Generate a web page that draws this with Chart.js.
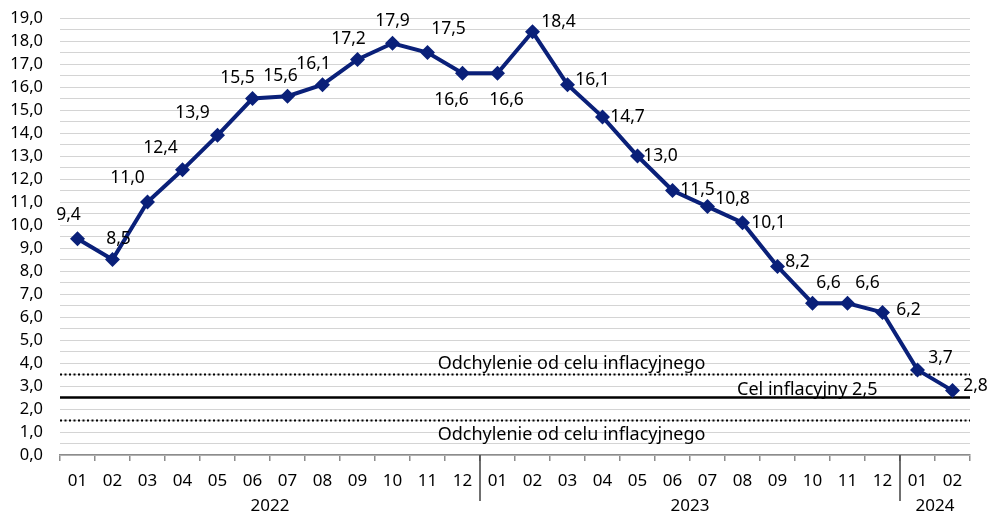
<!DOCTYPE html>
<html>
<head>
<meta charset="utf-8">
<script src="https://cdn.jsdelivr.net/npm/chart.js@4"></script>
<style>
  html, body { margin: 0; padding: 0; background: #fff; }
  #wrap { width: 991px; height: 517px; position: relative; }
</style>
</head>
<body>
<div id="wrap"><canvas id="cpi-chart"></canvas></div>
<script>
// ---- data ----
const months = ['01','02','03','04','05','06','07','08','09','10','11','12',
                '01','02','03','04','05','06','07','08','09','10','11','12',
                '01','02'];
const years = ['2022', '2023', '2024'];
const yearSpans = [12, 12, 2];
const cpi = [9.4, 8.5, 11.0, 12.4, 13.9, 15.5, 15.6, 16.1, 17.2, 17.9, 17.5, 16.6,
             16.6, 18.4, 16.1, 14.7, 13.0, 11.5, 10.8, 10.1, 8.2, 6.6, 6.6, 6.2,
             3.7, 2.8];
const target = 2.5;
const bandLimits = [1.5, 3.5];
const yMin = 0, yMax = 19;

const FONT = '"Noto Sans", "Open Sans", sans-serif';
const NAVY = '#0a2079';
const fmt = v => v.toFixed(1).replace('.', ',');

// label offsets relative to each point (dx, dy)
const labelOffsets = [
  [-9,-24],[6,-20],[-20,-24],[-22,-22],[-25,-22],[-15,-20],[-7,-20],[-9,-21],[-9,-20],[0,-22],
  [21,-23],[-11,27],[9,27],[26,-10],[25,-5],[25,0],[23,0],[25,0],[25,-8],[26,0],
  [20,-4],[16,-20],[20,-20],[26,-2],[23,-12],[23,-5]
];

// ---- target / deviation lines ----
const targetLines = {
  id: 'targetLines',
  beforeDatasetsDraw(chart) {
    const { ctx, chartArea: a, scales: { x, y } } = chart;
    ctx.save();
    ctx.strokeStyle = '#000';
    ctx.lineWidth = 2;
    ctx.setLineDash([2, 2.5]);
    bandLimits.forEach(v => {
      const py = y.getPixelForValue(v);
      ctx.beginPath(); ctx.moveTo(a.left, py); ctx.lineTo(a.right, py); ctx.stroke();
    });
    ctx.setLineDash([]);
    ctx.lineWidth = 2.5;
    const ty = y.getPixelForValue(target);
    ctx.beginPath(); ctx.moveTo(a.left, ty); ctx.lineTo(a.right, ty); ctx.stroke();

    ctx.fillStyle = '#000';
    ctx.font = '18px ' + FONT;
    ctx.textAlign = 'center';
    ctx.textBaseline = 'bottom';
    const cx = x.getPixelForValue(14) + 4;
    ctx.fillText('Odchylenie od celu inflacyjnego', cx, y.getPixelForValue(bandLimits[1]) - 2);
    ctx.textBaseline = 'top';
    ctx.fillText('Odchylenie od celu inflacyjnego', cx, y.getPixelForValue(bandLimits[0]) + 5);
    ctx.textAlign = 'right';
    ctx.textBaseline = 'bottom';
    ctx.fillText('Cel inflacyjny ' + fmt(target), x.getPixelForValue(23) - 5, ty + 1);
    ctx.restore();
  }
};

// ---- value labels ----
const valueLabels = {
  id: 'valueLabels',
  afterDatasetsDraw(chart) {
    const { ctx } = chart;
    const meta = chart.getDatasetMeta(0);
    ctx.save();
    ctx.fillStyle = '#000';
    ctx.font = '17.5px ' + FONT;
    ctx.textAlign = 'center';
    ctx.textBaseline = 'middle';
    meta.data.forEach((pt, i) => {
      const [dx, dy] = labelOffsets[i] || [0, -20];
      ctx.fillText(fmt(cpi[i]), pt.x + dx, pt.y + dy);
    });
    ctx.restore();
  }
};

// ---- year groups under the x axis ----
const yearAxis = {
  id: 'yearAxis',
  afterDraw(chart) {
    const { ctx, chartArea: a, scales: { x } } = chart;
    const half = (x.getPixelForValue(1) - x.getPixelForValue(0)) / 2;
    ctx.save();
    ctx.fillStyle = '#000';
    ctx.font = '17px ' + FONT;
    ctx.textAlign = 'center';
    ctx.textBaseline = 'middle';
    ctx.strokeStyle = '#404040';
    ctx.lineWidth = 1.5;
    let start = 0;
    yearSpans.forEach((n, gi) => {
      const end = start + n - 1;
      const cx = (x.getPixelForValue(start) + x.getPixelForValue(end)) / 2;
      ctx.fillText(years[gi], cx, a.bottom + 51);
      if (gi < yearSpans.length - 1) {
        const sx = x.getPixelForValue(end) + half;
        ctx.beginPath(); ctx.moveTo(sx, a.bottom); ctx.lineTo(sx, a.bottom + 46); ctx.stroke();
      }
      start += n;
    });
    ctx.restore();
  }
};

new Chart(document.getElementById('cpi-chart'), {
  type: 'line',
  data: {
    labels: months,
    datasets: [{
      data: cpi,
      borderColor: NAVY,
      backgroundColor: NAVY,
      borderWidth: 4,
      pointStyle: 'rectRot',
      pointRadius: 7.5,
      pointHoverRadius: 7.5,
      pointBorderWidth: 0,
      tension: 0
    }]
  },
  options: {
    responsive: true,
    maintainAspectRatio: false,
    animation: false,
    events: [],
    layout: { padding: { left: 0, right: 21, top: 18, bottom: 0 } },
    plugins: { legend: { display: false }, tooltip: { enabled: false } },
    scales: {
      x: {
        offset: true,
        afterFit: s => { s.height = 62; },
        grid: { offset: true, drawOnChartArea: false, drawTicks: true, tickLength: 6, color: '#8c8c8c', lineWidth: 1.5 },
        border: { display: true, color: '#8c8c8c', width: 1.5 },
        ticks: { color: '#000', font: { family: FONT, size: 17 }, padding: 10, maxRotation: 0, autoSkip: false }
      },
      y: {
        min: yMin,
        max: yMax,
        afterFit: s => { s.width = 60; s.paddingTop = 0; s.paddingBottom = 0; },
        grid: { color: '#d4d4d4', lineWidth: 1, drawTicks: false },
        border: { display: false },
        ticks: {
          stepSize: 0.5,
          autoSkip: false,
          padding: 17,
          color: '#000',
          font: { family: FONT, size: 16.5 },
          callback: v => (Number.isInteger(v) ? fmt(v) : '')
        }
      }
    }
  },
  plugins: [targetLines, valueLabels, yearAxis]
});
</script>
</body>
</html>
